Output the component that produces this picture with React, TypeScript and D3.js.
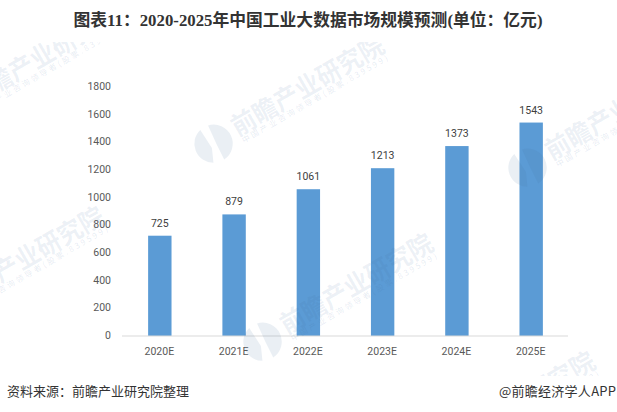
import * as d3 from "d3";

const years = ["2020E", "2021E", "2022E", "2023E", "2024E", "2025E"];
const values = [725, 879, 1061, 1213, 1373, 1543];
const ticks = [0, 200, 400, 600, 800, 1000, 1200, 1400, 1600, 1800];

// faint company watermark repeated over the chart: [x, y]
const marks = [
  [-52, 114],
  [213, 144],
  [527, 168],
  [-67, 315],
  [262, 342],
  [424, 460],
];

const width = 617;
const height = 412;
const cjk = '"Noto Sans CJK SC", "Noto Sans", sans-serif';

const x = d3.scaleBand<string>().domain(years).range([122.5, 568.5]).paddingInner(0.685).paddingOuter(0.345);
const y = d3.scaleLinear().domain([0, 1800]).range([336, 87]);

function Watermark({pos}: {pos: number[]}) {
  return (
    <g transform={`translate(${pos[0]},${pos[1]}) rotate(-30)`} fill="#3f6f9f">
      <path fillOpacity={0.11} d="M-4,-18.5 A19,19 0 0 0 -9,16.5 L-3,3 Z M5,-18.5 A19,19 0 0 1 2,19 L3,2 Z" />
      <text x={25} y={6} fontSize={26} fontWeight={700} fontFamily={cjk} textLength={172} lengthAdjust="spacingAndGlyphs" fillOpacity={0.1}>前瞻产业研究院</text>
      <text x={27} y={15} fontSize={8} fontFamily={cjk} textLength={167} fillOpacity={0.14}>中国产业咨询领导者(股票.839599)</text>
    </g>
  );
}

export default function App() {
  return (
    <svg width={width} height={height} style={{position: "absolute", left: 0, top: 0, background: "#fff"}}>
      <defs>
        <clipPath id="wm">
          <rect x={0} y={42} width={width} height={334} />
        </clipPath>
      </defs>

      <text x={308} y={26} textAnchor="middle" fontSize={16.8} fontWeight={700}
        fontFamily={'"Liberation Serif", "Noto Sans CJK SC", serif'} fill="#333">
        图表11：2020-2025年中国工业大数据市场规模预测(单位：亿元)
      </text>

      {ticks.map(t => (
        <text key={t} x={111} y={y(t)} dy="0.3em" textAnchor="end" fontSize={10.5}
          fontFamily="Roboto, sans-serif" fill="#595959">{t}</text>
      ))}

      {years.map((yr, i) => (
        <g key={yr}>
          <rect x={x(yr)} y={y(values[i])} width={x.bandwidth()} height={y(0) - y(values[i])} fill="#5b9bd5" />
          <text x={x(yr)! + x.bandwidth() / 2} y={y(values[i]) - 9} textAnchor="middle" fontSize={10.5}
            fontFamily="Roboto, sans-serif" fill="#404040">{values[i]}</text>
          <text x={x(yr)! + x.bandwidth() / 2 - 0.5} y={355} textAnchor="middle" fontSize={10.5}
            fontFamily="Roboto, sans-serif" fill="#595959">{yr}</text>
        </g>
      ))}

      <line x1={122} x2={568} y1={y(0)} y2={y(0)} stroke="#d9d9d9" />

      <g clipPath="url(#wm)">
        {marks.map((m, i) => <Watermark key={i} pos={m} />)}
      </g>

      <text x={7} y={396} fontSize={13} fontFamily={cjk} fill="#333">资料来源：前瞻产业研究院整理</text>
      <text x={499} y={396} fontSize={13} fontFamily={cjk} fill="#333" textLength={117}>@前瞻经济学人APP</text>
    </svg>
  );
}
